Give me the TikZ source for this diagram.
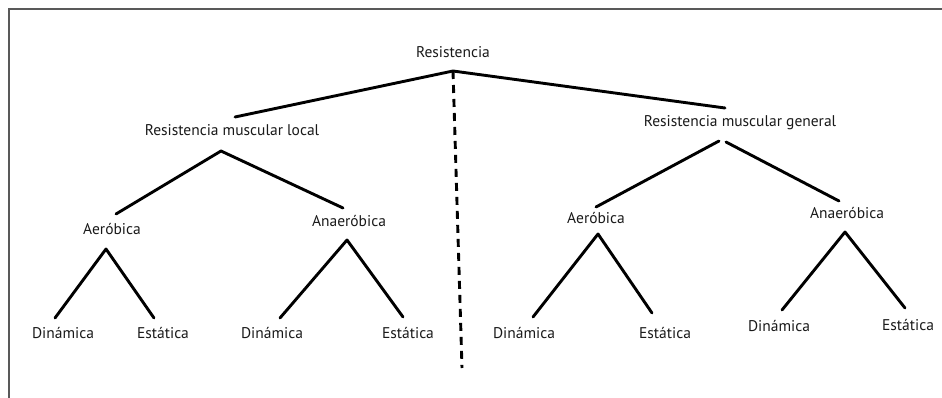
\documentclass[tikz,border=0pt]{standalone}
\usepackage{fontspec}
\setmainfont{PT Sans}
\begin{document}
\begin{tikzpicture}[x=1pt,y=-1pt,
  lbl/.style={inner sep=0pt,font=\fontsize{15.5}{18}\selectfont,text=black!90},
  br/.style={line width=2.9pt,line cap=round,line join=round},
  frm/.style={line width=1.3pt,draw=black!65}]
\useasboundingbox (0,0) rectangle (942,398);
\draw[frm] (9,398) -- (9,9) -- (942,9);
% nodes
\node[lbl] (r) at (453,52) {Resistencia};
\node[lbl] (ml) at (232,130) {Resistencia muscular local};
\node[lbl] (mg) at (740,123) {Resistencia muscular general};
\node[lbl] (a1) at (112,229) {Aeróbica};
\node[lbl] (n1) at (349,221) {Anaeróbica};
\node[lbl] (a2) at (596,218) {Aeróbica};
\node[lbl] (n2) at (847,213) {Anaeróbica};
\node[lbl] (d1) at (63,333) {Dinámica};
\node[lbl] (e1) at (163,333) {Estática};
\node[lbl] (d2) at (272,333) {Dinámica};
\node[lbl] (e2) at (408,333) {Estática};
\node[lbl] (d3) at (524,333) {Dinámica};
\node[lbl] (e3) at (665,333) {Estática};
\node[lbl] (d4) at (779,326) {Dinámica};
\node[lbl] (e4) at (908,325) {Estática};
% connector points
\coordinate (rA) at (453,71);
\coordinate (mlT) at (235,117);
\coordinate (mgT) at (725,108);
\coordinate (dE) at (462,368);
\coordinate (mlA) at (221,151);
\coordinate (a1T) at (116,214);
\coordinate (n1T) at (343,208);
\coordinate (mgL) at (719,141);
\coordinate (mgR) at (726,142);
\coordinate (a2T) at (596,207);
\coordinate (n2T) at (839,201);
\coordinate (a1A) at (106,249);
\coordinate (d1T) at (55,318);
\coordinate (e1T) at (154,318);
\coordinate (n1A) at (347,240);
\coordinate (d2T) at (280,318);
\coordinate (e2T) at (403,317);
\coordinate (a2A) at (598,234);
\coordinate (d3T) at (533,317);
\coordinate (e3T) at (652,313);
\coordinate (n2A) at (845,232);
\coordinate (d4T) at (782,310);
\coordinate (e4T) at (905,308);
% connectors
\draw[br] (mlT) -- (rA) -- (mgT);
\draw[line width=2.9pt,dash pattern=on 8pt off 6pt] (rA) -- (dE);
\draw[br] (a1T) -- (mlA) -- (n1T);
\draw[br] (a2T) -- (mgL);
\draw[br] (mgR) -- (n2T);
\draw[br] (d1T) -- (a1A) -- (e1T);
\draw[br] (d2T) -- (n1A) -- (e2T);
\draw[br] (d3T) -- (a2A) -- (e3T);
\draw[br] (d4T) -- (n2A) -- (e4T);
\end{tikzpicture}
\end{document}
